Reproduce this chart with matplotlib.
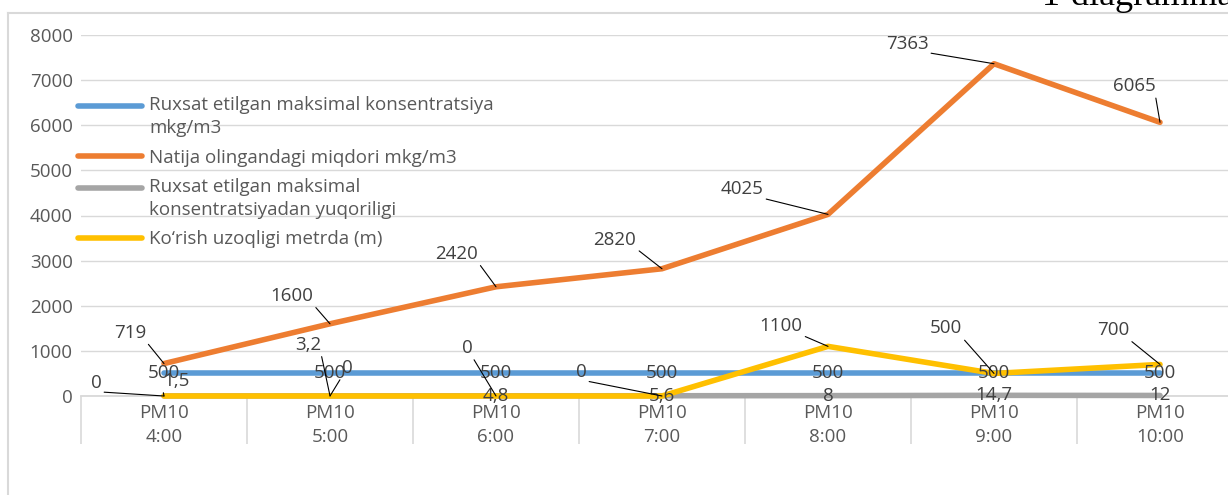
import numpy as np
import matplotlib
matplotlib.use("Agg")
import matplotlib.pyplot as plt
from matplotlib.lines import Line2D

plt.rcParams['font.family'] = ['Open Sans', 'DejaVu Sans']

# categories and series
categories = ['PM10\n4:00', 'PM10\n5:00', 'PM10\n6:00', 'PM10\n7:00',
              'PM10\n8:00', 'PM10\n9:00', 'PM10\n10:00']
ruxsat = [500, 500, 500, 500, 500, 500, 500]
natija = [719, 1600, 2420, 2820, 4025, 7363, 6065]
yuqori = [1.5, 3.2, 4.8, 5.6, 8, 14.7, 12]
korish = [0, 0, 0, 0, 1100, 500, 700]

ruxsat_lbl = ['500'] * 7
natija_lbl = ['719', '1600', '2420', '2820', '4025', '7363', '6065']
yuqori_lbl = ['1,5', '3,2', '4,8', '5,6', '8', '14,7', '12']
korish_lbl = ['0', '0', '0', '0', '1100', '500', '700']

names = ['Ruxsat etilgan maksimal konsentratsiya\nmkg/m3',
         'Natija olingandagi miqdori mkg/m3',
         'Ruxsat etilgan maksimal\nkonsentratsiyadan yuqoriligi',
         'Ko\u2018rish uzoqligi metrda (m)']
colors = ['#5B9BD5', '#ED7D31', '#A5A5A5', '#FFC000']

# label offsets in pixels (dx, dy), leader line drawn when non-zero
off_ruxsat = [(0, 0)] * 7
off_natija = [(-34, 31), (-38, 28), (-39, 33), (-47, 29), (-86, 25), (-87, 20), (-26, 36)]
off_yuqori = [(12, 15), (-22, 51), (0, 0), (0, 0), (0, 0), (0, 0), (0, 0)]
off_korish = [(-68, 13), (17, 28), (-29, 48), (-81, 24), (-47, 20), (-48, 45), (-47, 34)]

W, H = 1228, 495
fig = plt.figure(figsize=(W / 100, H / 100), dpi=100)
ax = fig.add_axes([81 / W, 1 - 396 / H, 1162 / W, (396 - 35) / H])

x = np.arange(len(categories))
series = [ruxsat, natija, yuqori, korish]
for vals, name, col in zip(series, names, colors):
    ax.plot(x, vals, color=col, lw=4.0, solid_capstyle='round', label=name,
            clip_on=False)

ax.set_xlim(-0.5, 6.5)
ax.set_ylim(0, 8000)
ax.set_yticks(np.arange(0, 8001, 1000))
ax.grid(axis='y', color='#D9D9D9', lw=1)
ax.set_axisbelow(True)
for s in ['top', 'right', 'left']:
    ax.spines[s].set_visible(False)
ax.spines['bottom'].set_color('#D9D9D9')
ax.spines['bottom'].set_linewidth(1.3)
ax.spines['bottom'].set_zorder(0.5)

ax.set_xticks(x)
ax.set_xticklabels(categories, linespacing=1.4)
ax.set_xticks(np.arange(-0.5, 7, 1), minor=True)
ax.tick_params(axis='x', which='major', length=0, pad=6, labelsize=13.5, labelcolor='#595959')
ax.tick_params(axis='x', which='minor', length=34.5, width=1.2, color='#D9D9D9')
ax.tick_params(axis='y', length=0, pad=6, labelsize=13.5, labelcolor='#595959')


def add_labels(vals, labels, offsets):
    for xi, v, t, (dx, dy) in zip(x, vals, labels, offsets):
        if dx == 0 and dy == 0:
            ax.annotate(t, (xi, v), xytext=(0, 0), textcoords='offset pixels',
                        ha='center', va='center', fontsize=13.5, color='#404040')
        else:
            rp = (1, 0) if dx < 0 else (0, 0)
            ax.annotate(t, (xi, v), xytext=(dx, dy), textcoords='offset pixels',
                        ha='center', va='center', fontsize=13.5, color='#404040',
                        arrowprops=dict(arrowstyle='-', color='black', lw=0.8,
                                        relpos=rp, shrinkA=0, shrinkB=0),
                        annotation_clip=False)


add_labels(ruxsat, ruxsat_lbl, off_ruxsat)
add_labels(natija, natija_lbl, off_natija)
add_labels(yuqori, yuqori_lbl, off_yuqori)
add_labels(korish, korish_lbl, off_korish)

leg_fs = 13.5
leg = ax.legend(loc='upper left', bbox_to_anchor=(78 / W, 1 - 96 / H),
                bbox_transform=fig.transFigure, frameon=False, fontsize=leg_fs,
                handlelength=3.4, handletextpad=0.4, labelspacing=0.6,
                borderpad=0, borderaxespad=0)
for t in leg.get_texts():
    t.set_color('#595959')
    t.set_linespacing(1.38)
# two-line entries: put the handle next to the first line, as in the reference
for h, name in zip(leg.legend_handles, names):
    if '\n' in name:
        h.set_ydata(np.asarray(h.get_ydata()) + 0.58 * leg_fs)

# chart frame and clipped caption
fig.add_artist(Line2D([8 / W, 1], [1 - 12.5 / H, 1 - 12.5 / H], color='#D9D9D9', lw=1.5))
fig.add_artist(Line2D([7.5 / W, 7.5 / W], [0, 1 - 12.5 / H], color='#D9D9D9', lw=1.5))
fig.text(1042 / W, 1 - 5 / H, '1-diagramma', fontsize=26, va='baseline',
         family='Liberation Serif', color='black')

fig.savefig('out.png', dpi=100)
